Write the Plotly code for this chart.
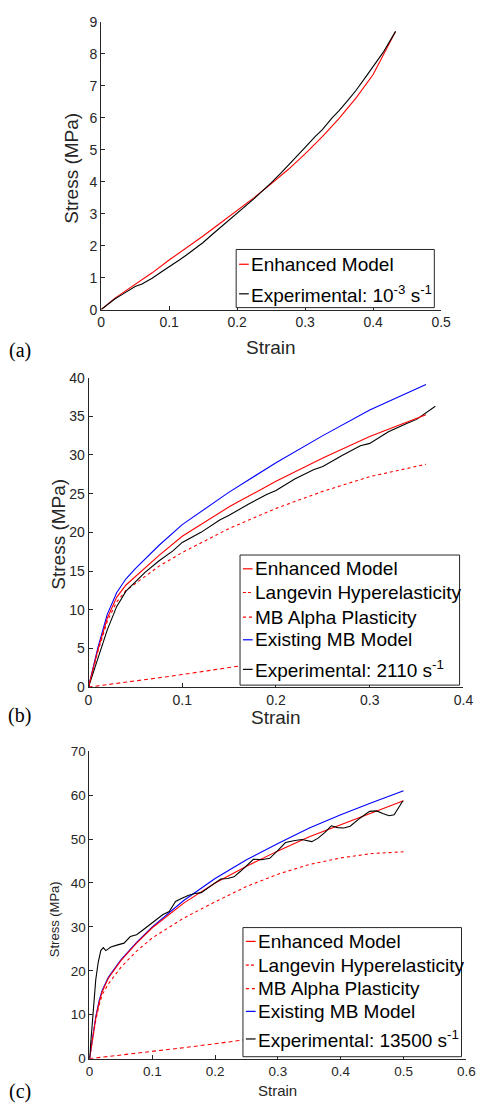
import plotly.graph_objects as go

W, H = 489, 1113

# ---------------- data ----------------
# (a) quasi-static 1e-3 /s
a_strain_model = [0, 0.01, 0.02, 0.03, 0.05, 0.075, 0.1, 0.125, 0.15, 0.175, 0.2, 0.225, 0.25,
                  0.275, 0.3, 0.325, 0.35, 0.375, 0.4, 0.433]
a_enhanced = [0, 0.18, 0.35, 0.5, 0.78, 1.15, 1.55, 1.92, 2.3, 2.7, 3.1, 3.5, 3.93,
              4.38, 4.87, 5.4, 5.98, 6.62, 7.35, 8.7]
a_strain_exp = [0, 0.005, 0.01, 0.02, 0.03, 0.04, 0.05, 0.06, 0.075, 0.09, 0.1, 0.115, 0.125,
                0.14, 0.15, 0.165, 0.175, 0.19, 0.2, 0.215, 0.225, 0.24, 0.25, 0.265, 0.275,
                0.29, 0.3, 0.315, 0.325, 0.34, 0.35, 0.365, 0.375, 0.39, 0.4, 0.415, 0.433]
a_experimental = [0, 0.08, 0.16, 0.33, 0.46, 0.6, 0.72, 0.8, 0.98, 1.2, 1.33, 1.55, 1.7,
                  1.95, 2.1, 2.38, 2.56, 2.82, 3.0, 3.28, 3.47, 3.77, 3.96, 4.28, 4.5,
                  4.86, 5.07, 5.42, 5.62, 6.0, 6.22, 6.6, 6.86, 7.3, 7.6, 8.05, 8.7]

# (b) 2110 /s
b_strain_model = [0, 0.01, 0.02, 0.03, 0.04, 0.05, 0.075, 0.1, 0.15, 0.2, 0.25, 0.3, 0.36]
b_enhanced = [0, 4.8, 8.9, 11.6, 13.2, 14.3, 17.0, 19.5, 23.3, 26.6, 29.6, 32.4, 35.2]
b_langevin = [0, 0.15, 0.31, 0.47, 0.63, 0.8, 1.2, 1.62, 2.5, 3.4, 4.35, 5.3, 6.5]
b_mb_alpha = [0, 4.6, 8.5, 11.0, 12.5, 13.4, 15.6, 17.4, 20.5, 23.1, 25.3, 27.2, 28.8]
b_existing = [0, 5.1, 9.4, 12.2, 14.0, 15.3, 18.3, 21.0, 25.2, 29.0, 32.5, 35.8, 39.1]
b_strain_exp = [0, 0.01, 0.02, 0.03, 0.04, 0.05, 0.06, 0.075, 0.09, 0.1, 0.12, 0.14, 0.15,
                0.17, 0.19, 0.2, 0.22, 0.24, 0.25, 0.27, 0.29, 0.3, 0.32, 0.34, 0.35, 0.37]
b_experimental = [0, 3.8, 7.4, 10.4, 12.4, 13.6, 14.8, 16.3, 17.6, 18.7, 20.0, 21.6, 22.2,
                  23.6, 24.9, 25.4, 26.9, 28.1, 28.5, 29.9, 31.2, 31.5, 33.0, 34.1, 34.6, 36.3]

# (c) 13500 /s
c_strain_model = [0, 0.005, 0.01, 0.015, 0.02, 0.03, 0.04, 0.05, 0.075, 0.1, 0.15, 0.2, 0.25,
                  0.3, 0.35, 0.4, 0.45, 0.5]
c_enhanced = [0, 4.8, 9.2, 12.6, 15.2, 18.3, 20.4, 22.3, 26.3, 29.8, 35.4, 40.0, 43.8,
              47.3, 50.5, 53.3, 56.0, 58.7]
c_langevin = [0, 0.08, 0.15, 0.23, 0.31, 0.47, 0.62, 0.78, 1.18, 1.6, 2.5, 3.4, 4.3,
              5.3, 6.3, 7.4, 8.5, 9.7]
c_mb_alpha = [0, 4.5, 8.7, 12.0, 14.5, 17.0, 19.0, 20.8, 24.5, 27.5, 32.0, 35.7, 39.2,
              42.0, 44.2, 45.7, 46.7, 47.1]
c_existing = [0, 5.0, 9.5, 13.0, 15.5, 18.5, 20.6, 22.5, 26.5, 30.0, 36.0, 41.0, 45.3,
              49.0, 52.5, 55.5, 58.3, 61.0]
c_strain_exp = [0, 0.003, 0.006, 0.01, 0.014, 0.018, 0.022, 0.026, 0.03, 0.034, 0.045, 0.055,
                0.065, 0.075, 0.085, 0.096, 0.106, 0.117, 0.127, 0.137, 0.148, 0.158, 0.168,
                0.178, 0.194, 0.209, 0.22, 0.23, 0.24, 0.25, 0.261, 0.274, 0.287, 0.3, 0.312,
                0.325, 0.338, 0.354, 0.364, 0.374, 0.385, 0.395, 0.405, 0.415, 0.431, 0.446,
                0.457, 0.467, 0.477, 0.485, 0.492, 0.499]
c_experimental = [0, 6, 12, 18, 22, 24.6, 25.3, 24.6, 25.0, 25.4, 25.9, 26.3,
                  27.8, 28.2, 29.3, 30.5, 31.8, 32.8, 33.5, 35.8, 36.6, 37.2, 37.6,
                  37.8, 39.4, 40.9, 41.0, 41.4, 42.6, 43.9, 45.4, 45.3, 45.6, 47.4, 49.2,
                  49.6, 49.9, 49.4, 50.2, 51.4, 53.0, 52.6, 52.5, 52.9, 54.8, 56.3,
                  56.4, 55.8, 55.3, 55.5, 57.0, 58.7]

legend_a = ["Enhanced Model", "Experimental: 10<sup>-3</sup> s<sup>-1</sup>"]
legend_b = ["Enhanced Model", "Langevin Hyperelasticity", "MB Alpha Plasticity",
            "Existing MB Model", "Experimental: 2110 s<sup>-1</sup>"]
legend_c = ["Enhanced Model", "Langevin Hyperelasticity", "MB Alpha Plasticity",
            "Existing MB Model", "Experimental: 13500 s<sup>-1</sup>"]

# ---------------- styling ----------------
RED, BLUE, BLACK, AX = "#ff0000", "#0000ff", "#000000", "#262626"
SANS = "Liberation Sans"
SERIF = "Liberation Serif"
LW = 1.1


def px(x):
    return x / W


def py(y):
    return 1 - y / H


fig = go.Figure()


def add(x, y, color, dash, ax):
    fig.add_trace(go.Scatter(x=x, y=y, mode="lines", line=dict(color=color, width=LW, dash=dash),
                             xaxis="x" + ax, yaxis="y" + ax, showlegend=False, hoverinfo="skip"))


# (a)
add(a_strain_model, a_enhanced, RED, "solid", "")
add(a_strain_exp, a_experimental, BLACK, "solid", "")
# (b)
add(b_strain_model, b_langevin, RED, "4px,3px", "2")
add(b_strain_model, b_mb_alpha, RED, "dot", "2")
add(b_strain_model, b_existing, BLUE, "solid", "2")
add(b_strain_exp, b_experimental, BLACK, "solid", "2")
add(b_strain_model, b_enhanced, RED, "solid", "2")
# (c)
add(c_strain_model, c_langevin, RED, "4px,3px", "3")
add(c_strain_model, c_mb_alpha, RED, "dot", "3")
add(c_strain_model, c_existing, BLUE, "solid", "3")
add(c_strain_model, c_enhanced, RED, "solid", "3")
add(c_strain_exp, c_experimental, BLACK, "solid", "3")


def axis(dom, rng, dtick, size):
    return dict(domain=dom, range=rng, dtick=dtick, tick0=0, showline=True, linecolor=AX,
                linewidth=1, ticks="inside", ticklen=4, tickcolor=AX, tickwidth=1,
                showgrid=False, zeroline=False, mirror=False,
                tickfont=dict(family=SANS, size=size, color=AX), fixedrange=True)


# pixel boxes of plot areas
A = dict(x0=100, x1=450, y0=14, y1=306)
B = dict(x0=87, x1=473, y0=375, y1=689)
C = dict(x0=88, x1=476, y0=754, y1=1066)

fig.update_layout(
    width=W, height=H, margin=dict(l=0, r=0, t=0, b=0),
    paper_bgcolor="white", plot_bgcolor="white", showlegend=False,
    xaxis=dict(**axis([px(A["x0"]), px(A["x1"])], [0, 0.5], 0.1, 14), anchor="y"),
    yaxis=dict(**axis([py(A["y1"]), py(A["y0"])], [0, 9], 1, 14), anchor="x"),
    xaxis2=dict(**axis([px(B["x0"]), px(B["x1"])], [0, 0.4], 0.1, 14), anchor="y2"),
    yaxis2=dict(**axis([py(B["y1"]), py(B["y0"])], [0, 40], 5, 14), anchor="x2"),
    xaxis3=dict(**axis([px(C["x0"]), px(C["x1"])], [0, 0.6], 0.1, 13.5), anchor="y3"),
    yaxis3=dict(**axis([py(C["y1"]), py(C["y0"])], [0, 70], 10, 13.5), anchor="x3"),
)

ann = []
shapes = []


def text(x, y, s, size, family=SANS, angle=0, xanchor="center", color=AX):
    ann.append(dict(x=px(x), y=py(y), xref="paper", yref="paper", text=s, showarrow=False,
                    font=dict(family=family, size=size, color=color), textangle=angle,
                    xanchor=xanchor, yanchor="middle"))


# axis titles
text(275, 344, "Strain", 19)
text(70, 162, "Stress (MPa)", 19, angle=-90)
text(280, 720, "Strain", 19)
text(56, 534, "Stress (MPa)", 19, angle=-90)
text(282, 1098, "Strain", 15)
text(52, 925, "Stress (MPa)", 13, angle=-90)

# panel labels
text(16, 348, "(a)", 20, family=SERIF, color="#000000")
text(16, 718, "(b)", 20, family=SERIF, color="#000000")
text(16, 1099, "(c)", 20, family=SERIF, color="#000000")


def legend(box, rows, items):
    x0, y0, x1, y1 = box
    shapes.append(dict(type="rect", xref="paper", yref="paper", x0=px(x0), x1=px(x1),
                       y0=py(y1), y1=py(y0), fillcolor="white", line=dict(color=AX, width=1),
                       layer="above"))
    for (label, color, dash), yy in zip(items, rows):
        shapes.append(dict(type="line", xref="paper", yref="paper", x0=px(x0 + 3), x1=px(x0 + 13),
                           y0=py(yy), y1=py(yy), line=dict(color=color, width=1.2, dash=dash),
                           layer="above"))
        ann.append(dict(x=px(x0 + 13), y=py(yy), xref="paper", yref="paper", text=label,
                        showarrow=False, font=dict(family=SANS, size=19, color="#000000"),
                        xanchor="left", yanchor="middle"))


legend((239, 245, 443, 304), [260, 290],
       [(legend_a[0], RED, "solid"), (legend_a[1], BLACK, "solid")])
styles = [(RED, "solid"), (RED, "3px,2px"), (RED, "dot"), (BLUE, "solid"), (BLACK, "solid")]
legend((243, 555, 469, 687), [569, 593, 618, 641, 671],
       [(l, c, d) for l, (c, d) in zip(legend_b, styles)])
legend((246, 933, 471, 1064), [947, 971, 995, 1018, 1046],
       [(l, c, d) for l, (c, d) in zip(legend_c, styles)])

fig.update_layout(annotations=ann, shapes=shapes)
fig.write_html("out.html")
